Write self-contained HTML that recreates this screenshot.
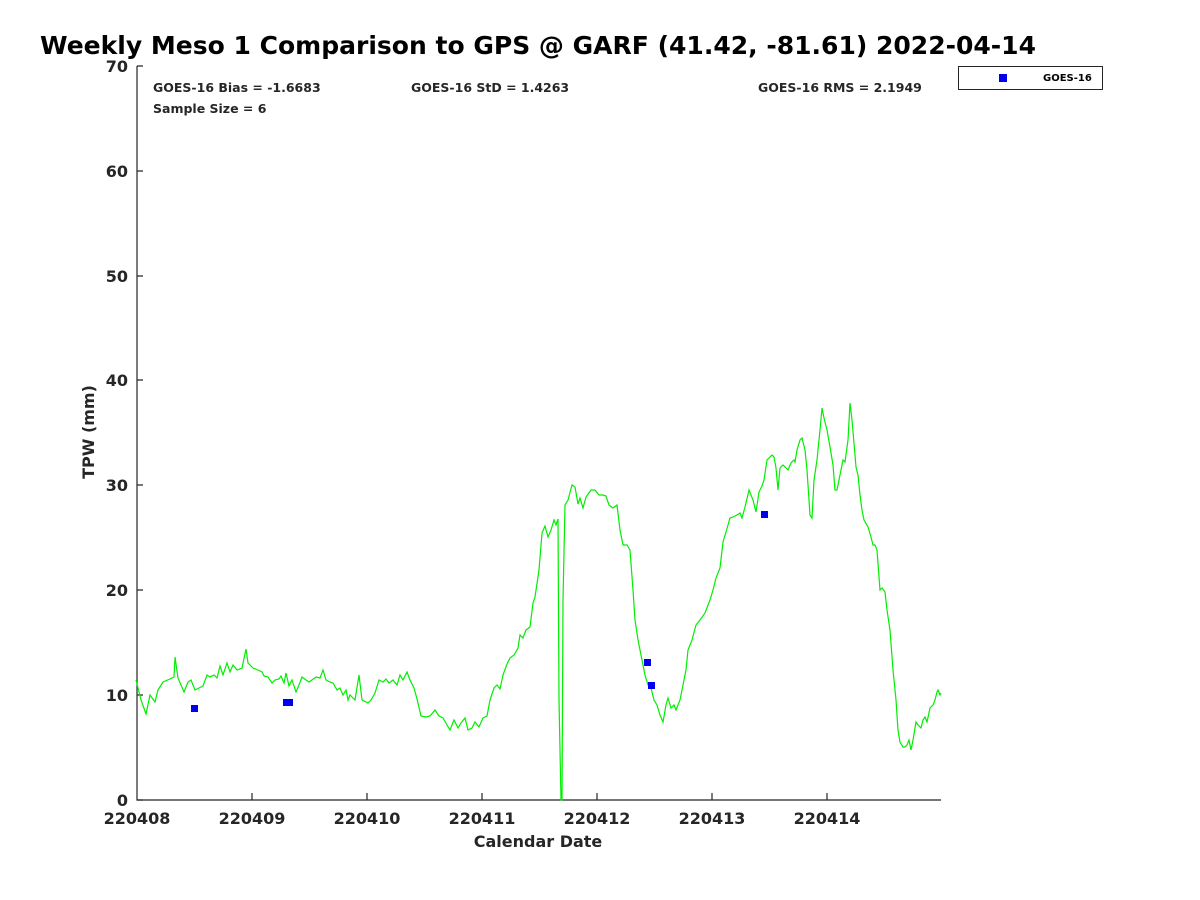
<!DOCTYPE html>
<html><head><meta charset="utf-8"><style>body{margin:0;background:#fff}svg{display:block}text{font-family:"DejaVu Sans","Liberation Sans",sans-serif;font-weight:bold;fill:#262626}</style></head><body>
<svg width="1200" height="900" viewBox="0 0 1200 900">
<rect width="1200" height="900" fill="#fff"/>
<text x="40" y="54" font-size="25" textLength="996" lengthAdjust="spacingAndGlyphs" style="fill:#000">Weekly Meso 1 Comparison to GPS @ GARF (41.42, -81.61) 2022-04-14</text>
<g stroke="#262626" stroke-width="1.2" fill="none">
<path d="M137,66V800H941"/>
<path d="M137,800h6M137,695h6M137,590h6M137,485h6M137,380h6M137,276h6M137,171h6M137,66h6"/>
<path d="M252,800v-7M367,800v-7M482,800v-7M597,800v-7M712,800v-7M827,800v-7"/>
</g>
<g font-size="16" text-anchor="end">
<text x="128" y="806">0</text><text x="128" y="701">10</text><text x="128" y="596">20</text><text x="128" y="491">30</text><text x="128" y="386">40</text><text x="128" y="282">50</text><text x="128" y="177">60</text><text x="128" y="72">70</text>
</g>
<g font-size="16" text-anchor="middle">
<text x="137" y="824">220408</text><text x="252" y="824">220409</text><text x="367" y="824">220410</text><text x="482" y="824">220411</text><text x="597" y="824">220412</text><text x="712" y="824">220413</text><text x="827" y="824">220414</text>
</g>
<text x="538" y="847" font-size="16" text-anchor="middle">Calendar Date</text>
<text transform="translate(94,432) rotate(-90)" font-size="16" text-anchor="middle">TPW (mm)</text>
<g font-size="12.5" style="fill:#000">
<text x="153" y="92">GOES-16 Bias = -1.6683</text>
<text x="411" y="92">GOES-16 StD = 1.4263</text>
<text x="758" y="92">GOES-16 RMS = 2.1949</text>
<text x="153" y="113">Sample Size = 6</text>
</g>
<polyline fill="none" stroke="#00ee00" stroke-width="1.2" points="136,680 141,700 146,714 150,695 155,702 158,690 163,682 170,679 174,677 175,657 178,678 184,692 188,682 191,680 195,690 199,688 203,686 207,675 210,677 214,675 217,678 220,666 223,675 227,663 230,672 233,665 237,670 242,668 246,649 248,663 253,668 258,670 262,672 264,676 268,677 272,683 275,680 279,679 281,676 284,683 286,673 289,686 292,680 296,692 299,685 302,677 306,680 309,682 312,680 316,677 320,678 323,670 326,680 330,682 333,683 337,690 340,688 343,695 346,690 348,700 350,695 355,700 359,675 362,700 368,703 371,700 375,693 379,680 383,682 386,679 389,683 393,680 397,685 400,675 403,680 407,672 410,680 414,688 417,699 421,716 426,717 430,716 435,710 439,716 443,718 447,725 450,730 454,720 458,728 461,723 465,718 468,730 472,728 475,722 479,727 483,718 487,716 490,700 494,688 497,685 500,689 503,675 507,664 510,658 514,655 518,648 520,635 523,638 526,630 530,627 533,603 535,597 539,570 542,533 545,526 548,537 551,530 554,520 556,525 558,519 559,700 561,800 562,800 563,600 565,505 568,500 572,485 575,487 578,504 580,498 583,508 586,497 591,490 595,490 599,495 603,495 606,496 609,505 613,508 617,505 620,530 623,545 627,545 630,550 633,590 635,620 638,640 641,655 643,665 645,675 648,685 651,688 654,700 657,705 660,715 663,722 666,705 668,698 671,708 674,705 676,710 680,700 683,685 686,670 688,650 692,640 696,625 700,620 705,613 710,600 713,590 716,578 720,568 723,542 726,532 730,518 733,517 737,515 740,513 742,518 745,507 749,490 753,500 756,512 759,492 762,486 764,480 767,460 769,458 772,455 774,457 776,468 778,490 780,468 783,465 788,470 791,463 794,460 795,462 797,450 800,440 802,438 805,450 807,470 810,515 812,518 814,480 817,460 820,430 822,408 824,418 827,430 830,447 833,465 835,490 837,490 840,475 843,460 845,462 848,440 850,403 852,420 855,455 856,467 858,475 860,495 862,510 864,520 868,527 871,537 873,545 875,545 877,550 880,590 882,588 885,592 887,610 890,630 893,670 896,700 898,730 900,742 903,747 905,747 907,745 909,740 911,750 913,740 916,722 918,725 921,728 923,720 925,717 927,722 930,708 933,705 935,700 937,692 938,690 940,695 941,693"/>
<g fill="#0000ee">
<rect x="191" y="705" width="7" height="7"/><rect x="283" y="699" width="10" height="7"/><rect x="644" y="659" width="7" height="7"/><rect x="648" y="682" width="7" height="7"/><rect x="761" y="511" width="7" height="7"/>
</g>
<rect x="958.5" y="66.5" width="144" height="23" fill="#fff" stroke="#262626" stroke-width="1"/>
<rect x="999" y="74" width="8" height="8" fill="#0000ee"/>
<text x="1043" y="81" font-size="10" style="fill:#000">GOES-16</text>
</svg>
</body></html>
